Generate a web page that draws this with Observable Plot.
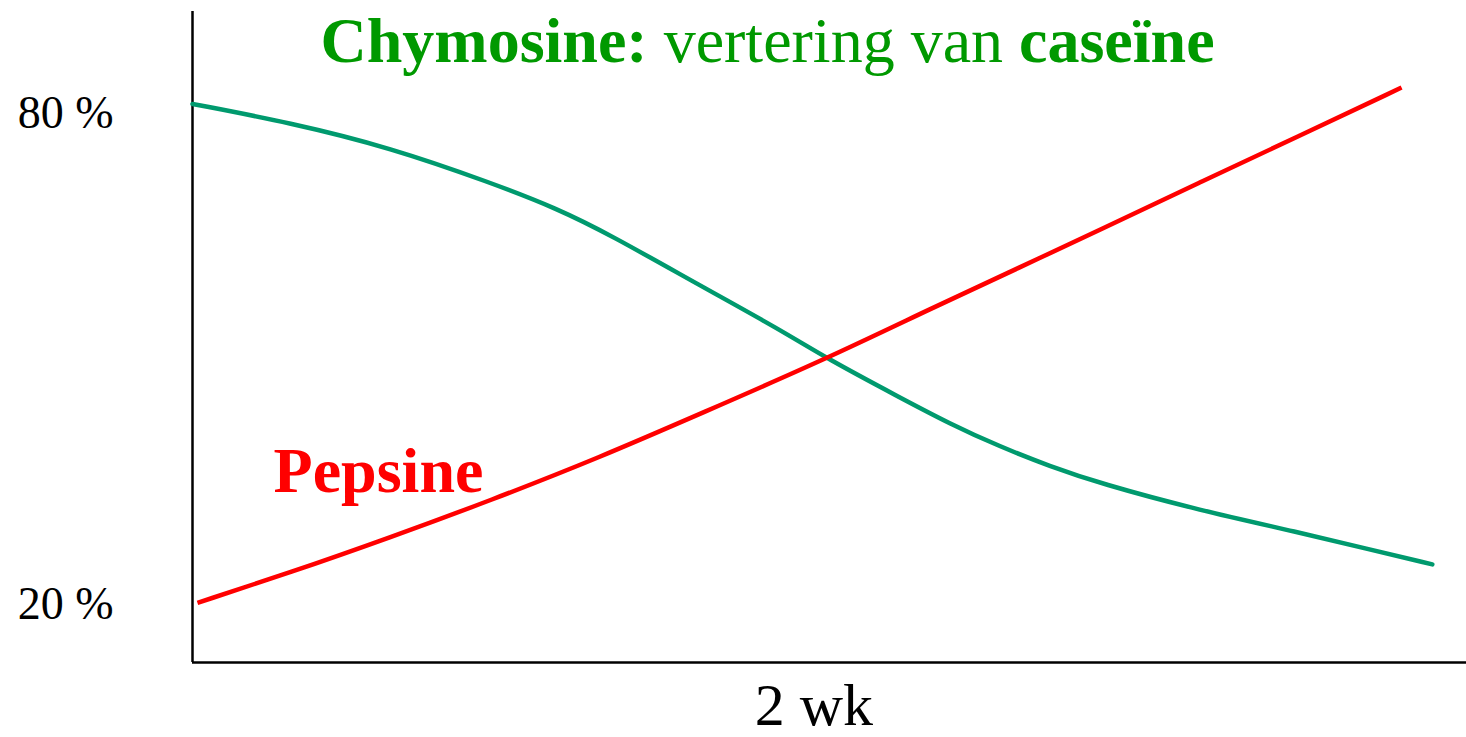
<!DOCTYPE html>
<html>
<head>
<meta charset="utf-8">
<script src="https://cdn.jsdelivr.net/npm/d3@7"></script>
<script src="https://cdn.jsdelivr.net/npm/@observablehq/plot@0.6"></script>
<style>
  html, body { margin: 0; padding: 0; background: #fff; }
  #chart { width: 1466px; height: 737px; }
</style>
</head>
<body>
<div id="chart"></div>
<script>
// Chymosine (green curve): weeks and % values
const weeksChymosine = [0, 0.315, 0.637, 0.958, 1.174, 1.344, 1.633, 1.891, 2.042, 2.277, 2.437, 2.598, 2.759, 2.920, 3.241, 3.563, 3.778, 3.990];
const chymosine      = [81.2, 78.9, 75.85, 71.6, 68.4, 65.2, 59.0, 53.6, 50.06, 45.3, 42.1, 39.3, 36.9, 34.8, 31.5, 28.8, 26.8, 24.9];

// Pepsine (red curve): weeks and % values
const weeksPepsine = [0.016, 0.315, 0.637, 0.958, 1.312, 1.633, 2.042, 2.383, 2.662, 2.920, 3.241, 3.563, 3.891];
const pepsine      = [20.2, 23.9, 28.2, 32.7, 38.0, 43.3, 50.06, 56.3, 61.2, 65.8, 71.6, 77.3, 83.2];

// Tick labels
const yTicks = [20, 80];
const yTickLabels = ["20 %", "80 %"];
const xTicks = [2];
const xTickLabels = ["2 wk"];

// Texts
const titleParts = ["Chymosine:", " vertering van ", "caseïne"];
const titleBold = [true, false, true];
const seriesLabels = ["Pepsine"];

const green = "#009a6e";
const titleGreen = "#009900";
const red = "#ff0000";

const svg = Plot.plot({
  width: 1466,
  height: 737,
  marginLeft: 192,
  marginRight: 0,
  marginTop: 11,
  marginBottom: 75,
  style: { fontFamily: "'Liberation Serif', 'Times New Roman', serif", background: "#fff", color: "#000" },
  x: { domain: [0, 4.1] },
  y: { domain: [12.9, 92.5] },
  marks: [
    Plot.axisY({ ticks: yTicks, tickFormat: d => yTickLabels[yTicks.indexOf(d)], tickSize: 0, tickPadding: 79, fontSize: 46, label: null }),
    Plot.axisX({ ticks: xTicks, tickFormat: d => xTickLabels[xTicks.indexOf(d)], tickSize: 0, tickPadding: 20, fontSize: 60, label: null }),
    Plot.ruleX([0], { stroke: "#000", strokeWidth: 2.5 }),
    Plot.ruleY([12.9], { stroke: "#000", strokeWidth: 2.5 }),
    Plot.line(chymosine, { x: weeksChymosine, y: chymosine, curve: "basis", stroke: green, strokeWidth: 4.5, strokeLinecap: "round" }),
    Plot.line(pepsine, { x: weeksPepsine, y: pepsine, curve: "basis", stroke: red, strokeWidth: 4.5, strokeLinecap: "butt" }),
    Plot.text(seriesLabels, { x: 0.261, y: 33.7, text: d => d, textAnchor: "start", lineAnchor: "bottom", fontSize: 64, fontWeight: "bold", fill: red }),
    Plot.text(["title"], { x: 0.412, y: 86.35, text: () => titleParts.join(""), textAnchor: "start", lineAnchor: "bottom", fontSize: 64, fill: titleGreen })
  ]
});

// Mixed bold / regular title
const fullTitle = titleParts.join("");
svg.querySelectorAll("text").forEach(node => {
  if (node.textContent === fullTitle) {
    const t = d3.select(node);
    t.text(null).style("white-space", "pre");
    titleParts.forEach((p, i) => t.append("tspan").attr("font-weight", titleBold[i] ? "bold" : "normal").text(p));
  }
});

document.getElementById("chart").appendChild(svg);
</script>
</body>
</html>
